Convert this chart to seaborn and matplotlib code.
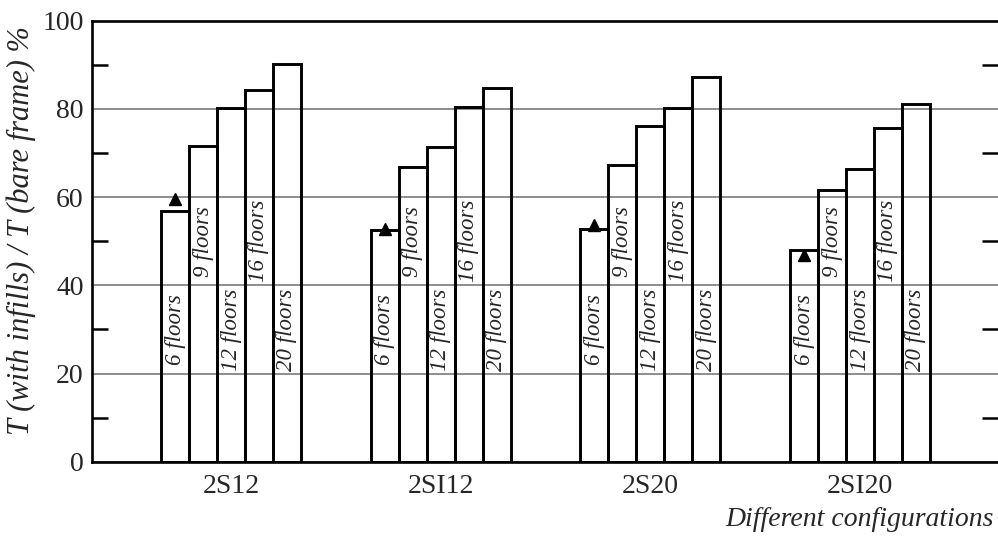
import matplotlib
matplotlib.use("Agg")
import matplotlib.pyplot as plt
from matplotlib.ticker import FixedLocator
import seaborn as sns
import pandas as pd

# Period ratio T(with infills) / T(bare frame), in %, per configuration and height
configs = ["2S12", "2SI12", "2S20", "2SI20"]
floors = ["6 floors", "9 floors", "12 floors", "16 floors", "20 floors"]
ratio_2S12 = [56.8, 71.6, 80.1, 84.2, 90.2]
ratio_2SI12 = [52.5, 66.8, 71.4, 80.4, 84.7]
ratio_2S20 = [52.8, 67.3, 76.1, 80.1, 87.2]
ratio_2SI20 = [48.0, 61.5, 66.4, 75.7, 81.0]
# Reference ratio for the 6-floor building (triangle marks)
ratio_6floor_ref = [59.6, 52.8, 53.7, 46.9]

y_ticks = [0, 20, 40, 60, 80, 100]

series = [ratio_2S12, ratio_2SI12, ratio_2S20, ratio_2SI20]
rows = []
for cfg, vals in zip(configs, series):
    for fl, v in zip(floors, vals):
        rows.append({"config": cfg, "floors": fl, "ratio": v})
df = pd.DataFrame(rows)

sns.set_style("white")
plt.rcParams["font.family"] = ["Liberation Serif", "DejaVu Serif"]
plt.rcParams["axes.linewidth"] = 1.9

fig = plt.figure(figsize=(9.98, 5.40), dpi=100)
ax = fig.add_axes([92 / 998, 78.3 / 540, (998 - 92) / 998, (461.7 - 20.7) / 540])

sns.barplot(data=df, x="config", y="ratio", hue="floors",
            order=configs, hue_order=floors,
            palette=["black"] * len(floors), fill=False, width=2 / 3,
            linewidth=2.1, legend=False, errorbar=None, ax=ax, zorder=3)

# bar centres, sorted left to right
bars = sorted(ax.patches, key=lambda p: p.get_x())
centres = [p.get_x() + p.get_width() / 2 for p in bars]

for i, xc in enumerate(centres):
    j = i % len(floors)
    ax.text(xc, 30 if j % 2 == 0 else 50, floors[j], rotation=90,
            ha="center", va="center", fontsize=16.5, fontstyle="italic",
            zorder=4)

first_bar_x = [centres[g * len(floors)] for g in range(len(configs))]
ax.plot(first_bar_x, ratio_6floor_ref, linestyle="none", marker="^",
        markersize=9, color="black", zorder=5)

ax.set_xlim(-0.663, 3.658)
ax.set_ylim(0, 100)
ax.yaxis.set_major_locator(FixedLocator(y_ticks))
ax.yaxis.set_minor_locator(FixedLocator([10, 30, 50, 70, 90]))
ax.grid(axis="y", which="major", color="#7a7a7a", linewidth=1.2, zorder=1)
ax.grid(axis="x", visible=False)
ax.set_axisbelow(True)

for side in ["left", "bottom", "top"]:
    ax.spines[side].set_visible(True)
    ax.spines[side].set_color("black")
    ax.spines[side].set_linewidth(1.9)
ax.spines["right"].set_visible(False)

ax.tick_params(axis="y", which="major", length=0, labelsize=20, pad=6)
ax.tick_params(axis="y", which="minor", direction="in", length=11.5,
               width=1.8, color="black", left=True, right=True)
ax.tick_params(axis="x", which="major", length=0, labelsize=20, pad=9)

ax.set_xlabel("")
ax.set_ylabel("T (with infills) / T (bare frame) %", fontsize=22,
              fontstyle="italic")
ax.yaxis.set_label_coords(-0.062, 0.525)

fig.text(0.996, (540 - 519) / 540, "Different configurations", ha="right",
         va="center", fontsize=20, fontstyle="italic")

fig.savefig("out.png", dpi=100)
